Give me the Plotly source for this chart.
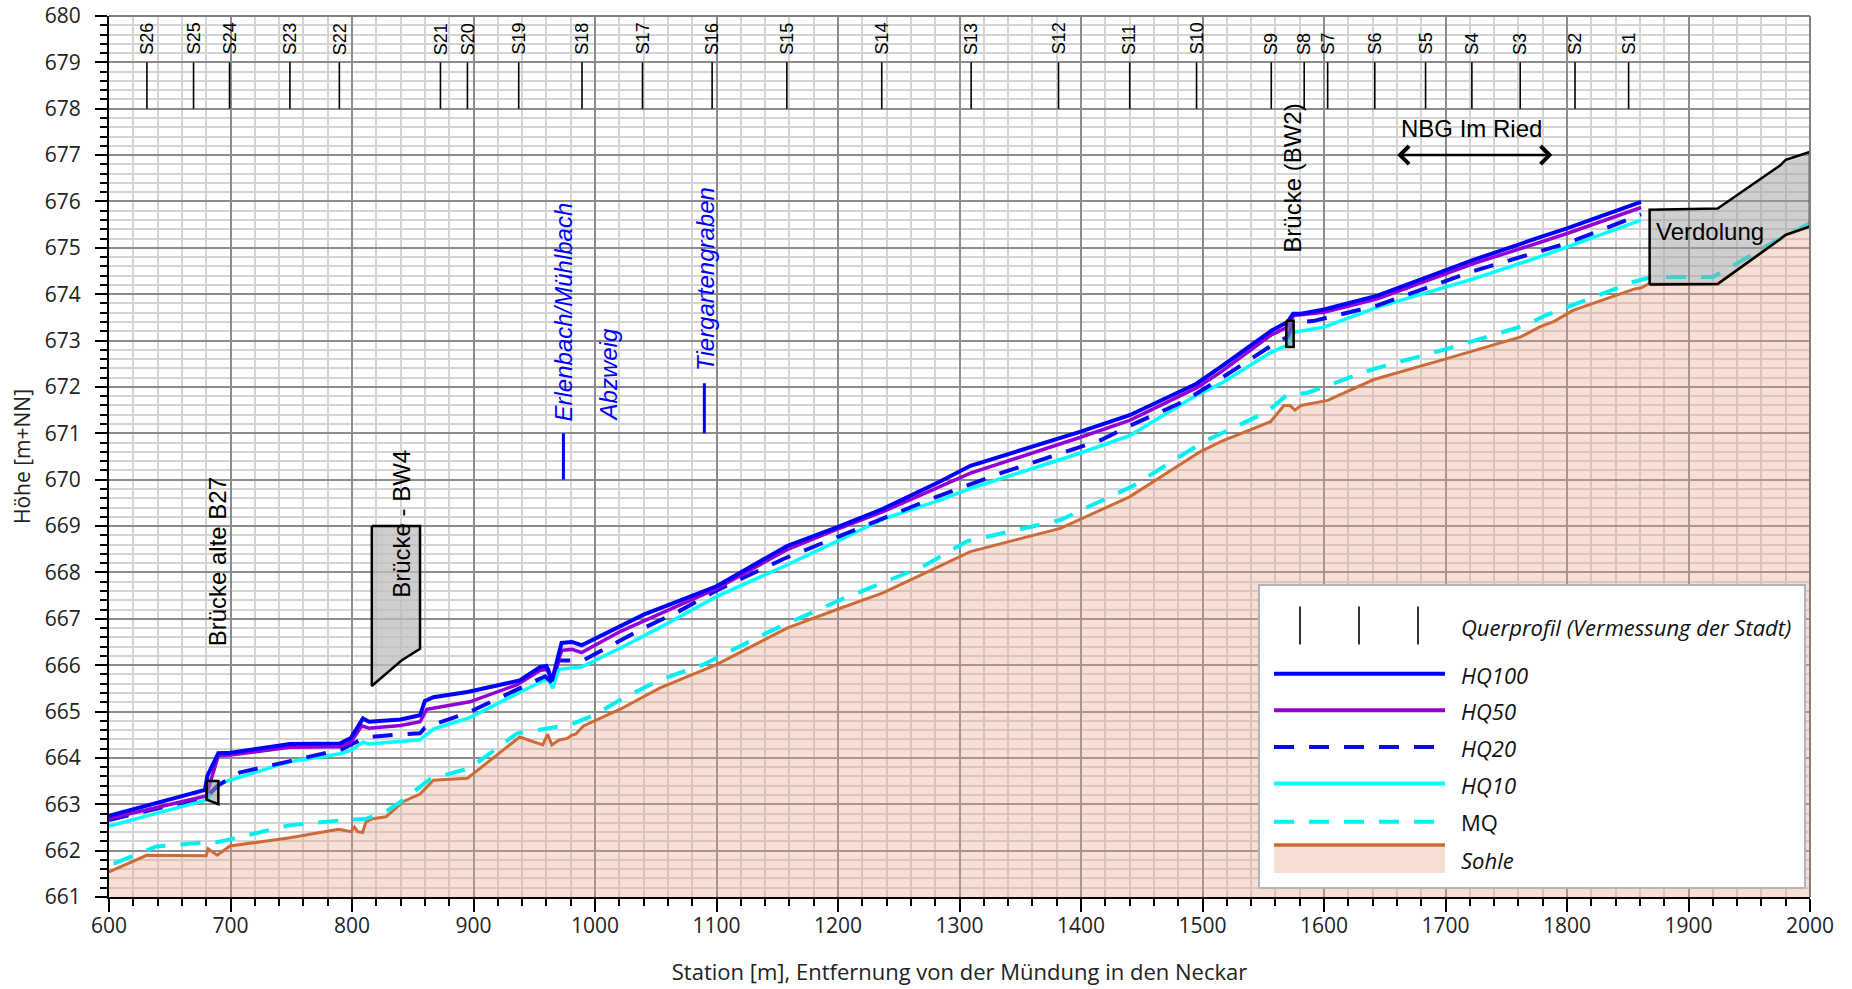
import plotly.graph_objects as go

# ---------------- data ----------------
profile_names = ["S26", "S25", "S24", "S23", "S22", "S21", "S20", "S19", "S18", "S17", "S16", "S15", "S14",
                 "S13", "S12", "S11", "S10", "S9", "S8", "S7", "S6", "S5", "S4", "S3", "S2", "S1"]
profile_st = [631.2, 669.6, 699.2, 748.9, 789.6, 872.8, 895.0, 937.2, 989.3, 1039.1, 1096.4, 1157.9, 1236.0,
              1309.6, 1381.5, 1440.1, 1495.1, 1556.6, 1583.7, 1603.0, 1641.8, 1683.6, 1721.7, 1761.5, 1806.6, 1850.7]
profile_bottom = 678.0
profile_top = 679.0

hq100_x = [600, 679, 681, 690, 700, 749, 790, 799, 809, 814, 840, 856, 860, 867, 895, 938, 955, 960, 964.5,
           972.5, 981, 989, 1040, 1100, 1158, 1199, 1237, 1284, 1309, 1399, 1440, 1495, 1515, 1557, 1570,
           1574.5, 1581, 1600, 1644, 1723, 1778, 1800, 1861]
hq100_y = [662.75, 663.31, 663.62, 664.10, 664.11, 664.30, 664.31, 664.43, 664.85, 664.78, 664.83, 664.92,
           665.23, 665.31, 665.42, 665.67, 665.96, 665.98, 665.66, 666.48, 666.50, 666.43, 667.09, 667.70,
           668.57, 668.97, 669.37, 669.96, 670.30, 671.03, 671.39, 672.07, 672.43, 673.22, 673.40, 673.58,
           673.58, 673.67, 673.97, 674.74, 675.23, 675.42, 675.99]

hq50_x = [600, 680, 690, 700, 749, 790, 799, 808, 814, 840, 856, 861.6, 897, 936, 955, 961.7, 964.5, 972.7,
          981, 989, 1021, 1100, 1158, 1199, 1237, 1284, 1309, 1399, 1440, 1495, 1515, 1557, 1570, 1575, 1600,
          1644, 1723, 1778, 1800, 1861]
hq50_y = [662.69, 663.18, 664.05, 664.06, 664.23, 664.24, 664.34, 664.69, 664.64, 664.70, 664.78, 665.05,
          665.21, 665.58, 665.89, 665.91, 665.67, 666.32, 666.34, 666.27, 666.73, 667.65, 668.49, 668.93,
          669.31, 669.85, 670.14, 670.91, 671.28, 671.98, 672.32, 673.13, 673.29, 673.54, 673.61, 673.90,
          674.66, 675.12, 675.31, 675.87]

hq20_x = [600, 680, 690, 708, 749, 792, 800, 811, 831, 856, 860, 867, 895, 938, 959, 964.5, 970, 990, 1040,
          1069, 1100, 1155, 1210, 1279, 1334, 1416, 1440, 1484, 1515, 1556, 1570, 1575, 1591, 1644, 1723,
          1800, 1861]
hq20_y = [662.66, 663.16, 663.41, 663.69, 663.93, 664.19, 664.30, 664.44, 664.49, 664.53, 664.65, 664.72,
          664.97, 665.51, 665.76, 665.62, 666.10, 666.10, 666.80, 667.16, 667.61, 668.29, 668.88, 669.61,
          670.14, 670.85, 671.16, 671.68, 672.18, 672.88, 673.08, 673.40, 673.42, 673.76, 674.50, 675.10,
          675.72]

hq10_x = [600, 680, 690, 749, 790, 800, 809, 814, 856, 867, 897, 938, 957.6, 961.7, 965.3, 970, 989, 1021,
          1054, 1100, 1158, 1199, 1237, 1284, 1309, 1399, 1440, 1495, 1515, 1556, 1570, 1575, 1600, 1644,
          1723, 1778, 1861]
hq10_y = [662.53, 663.09, 663.44, 663.92, 664.09, 664.17, 664.34, 664.30, 664.39, 664.62, 664.87, 665.41,
          665.67, 665.69, 665.50, 665.91, 665.96, 666.37, 666.82, 667.48, 668.16, 668.67, 669.15, 669.56,
          669.81, 670.57, 670.95, 671.82, 672.07, 672.74, 672.90, 673.18, 673.29, 673.72, 674.33, 674.81,
          675.60]

mq_x = [604, 639, 680, 689, 749, 798, 811, 829, 842, 864, 897, 936, 980, 999, 1024, 1054, 1089, 1144, 1202,
        1240, 1270, 1306, 1383, 1443, 1501, 1553, 1570, 1586, 1641, 1701, 1767, 1782, 1855, 1870, 1920, 1932,
        1965, 2000]
mq_y = [661.72, 662.09, 662.18, 662.18, 662.55, 662.67, 662.68, 662.86, 663.09, 663.54, 663.78, 664.53,
        664.72, 664.92, 665.30, 665.69, 666.01, 666.73, 667.41, 667.81, 668.13, 668.67, 669.13, 669.87,
        670.82, 671.46, 671.84, 671.87, 672.39, 672.82, 673.34, 673.54, 674.27, 674.37, 674.37, 674.54,
        675.05, 675.53]

sohle_x = [600, 631, 680, 681.5, 689, 699.5, 749, 789, 799, 802, 804.6, 808.7, 811.5, 817, 828, 842.4, 856,
           867, 895, 938, 957, 961, 964.5, 970, 977, 981, 984, 990.5, 1020.7, 1053.6, 1100, 1158, 1199, 1237,
           1309, 1383, 1440, 1498, 1515, 1556, 1567, 1572, 1576, 1581, 1603, 1641, 1701, 1762, 1778, 1789,
           1805, 1838, 1855, 1861, 1867, 1924, 1976, 1980, 2000]
sohle_y = [661.54, 661.90, 661.89, 662.04, 661.90, 662.10, 662.28, 662.46, 662.41, 662.51, 662.41, 662.39,
           662.62, 662.69, 662.73, 663.06, 663.22, 663.52, 663.56, 664.45, 664.28, 664.51, 664.28, 664.38,
           664.42, 664.49, 664.51, 664.69, 665.05, 665.51, 666.01, 666.80, 667.20, 667.56, 668.45, 668.95,
           669.63, 670.60, 670.82, 671.25, 671.60, 671.60, 671.50, 671.60, 671.71, 672.16, 672.61, 673.08,
           673.30, 673.41, 673.65, 673.95, 674.11, 674.14, 674.22, 674.22, 675.19, 675.28, 675.46]

# structures
b27_x = [680.3, 690, 690, 680.3, 680.3]
b27_y = [663.5, 663.5, 663.0, 663.1, 663.5]
bw4_x = [816.3, 856, 856, 840.7, 816.3, 816.3]
bw4_y = [669.0, 669.0, 666.35, 666.10, 665.55, 669.0]
bw2_x = [1569, 1575, 1575, 1569, 1569]
bw2_y = [673.43, 673.43, 672.86, 672.86, 673.43]
verd_x = [1868, 1868, 1924, 1975.6, 1980, 2000, 2000, 1980, 1975.6, 1924, 1868]
verd_y = [674.21, 675.82, 675.85, 676.78, 676.90, 677.07, 675.46, 675.28, 675.19, 674.22, 674.21]

# tributary markers
erlen_x = [974, 974]
erlen_y = [670.0, 671.0]
tier_x = [1090, 1090]
tier_y = [671.0, 672.08]

# annotation texts
black_labels = [
    ("Brücke alte B27", 689.6, 666.37),
    ("Brücke - BW4", 840.8, 667.40),
    ("Brücke (BW2)", 1574.0, 674.85),
]
blue_labels = [
    ("Erlenbach/Mühlbach", 974.0, 671.21),
    ("Abzweig", 1011.0, 671.21),
    ("Tiergartengraben", 1090.5, 672.30),
]
nbg_text = "NBG Im Ried"
nbg_arrow = (1659, 1788, 677.0)
nbg_pos = (1721, 677.58)
verd_text = "Verdolung"
verd_pos = (1872, 675.35)

y_ticks = list(range(661, 681))
x_ticks = list(range(600, 2001, 100))

legend_labels = ["Querprofil (Vermessung der Stadt)", "HQ100", "HQ50", "HQ20", "HQ10", "MQ", "Sohle"]

# ---------------- styling ----------------
W, H = 1852, 989
ML, MR, MT, MB = 109, 42, 16, 92
PW, PH = W - ML - MR, H - MT - MB

C_HQ100 = "#0000FF"
C_HQ50 = "#9400D3"
C_HQ20 = "#0A0AEE"
C_HQ10 = "#00FFFF"
C_MQ = "#00F0F0"
C_SOHLE = "#CD6A3A"
FILL_SOHLE = "rgba(230,165,135,0.35)"
DASH = "20px,15px"

TICKFONT = dict(family="Open Sans", size=21, color="#222222")
ANNFONT = "Liberation Sans"


def px(xp):
    return (xp - ML) / PW


def py(yp):
    return (H - MB - yp) / PH


fig = go.Figure()

fig.add_trace(go.Scatter(x=sohle_x, y=sohle_y, mode="lines", fill="tozeroy", fillcolor=FILL_SOHLE,
                         line=dict(color=C_SOHLE, width=3), name="Sohle", hoverinfo="skip"))
fig.add_trace(go.Scatter(x=mq_x, y=mq_y, mode="lines", line=dict(color=C_MQ, width=4, dash=DASH), name="MQ"))
fig.add_trace(go.Scatter(x=hq10_x, y=hq10_y, mode="lines", line=dict(color=C_HQ10, width=3.5), name="HQ10"))
fig.add_trace(go.Scatter(x=hq20_x, y=hq20_y, mode="lines", line=dict(color=C_HQ20, width=4, dash=DASH),
                         name="HQ20"))
fig.add_trace(go.Scatter(x=hq50_x, y=hq50_y, mode="lines", line=dict(color=C_HQ50, width=3.5), name="HQ50"))
fig.add_trace(go.Scatter(x=hq100_x, y=hq100_y, mode="lines", line=dict(color=C_HQ100, width=4), name="HQ100"))

# structures (semi-transparent grey)
for sx, sy, fc in [(b27_x, b27_y, "rgba(150,150,150,0.55)"), (bw2_x, bw2_y, "rgba(150,150,150,0.55)"),
                   (bw4_x, bw4_y, "rgba(190,190,190,0.75)"), (verd_x, verd_y, "rgba(160,160,160,0.5)")]:
    fig.add_trace(go.Scatter(x=sx, y=sy, mode="lines", fill="toself", fillcolor=fc,
                             line=dict(color="black", width=2.5)))

# Querprofile
qx, qy = [], []
for s in profile_st:
    qx += [s, s, None]
    qy += [profile_bottom, profile_top, None]
fig.add_trace(go.Scatter(x=qx, y=qy, mode="lines", line=dict(color="black", width=1.6), name="Querprofil"))

# tributary markers
fig.add_trace(go.Scatter(x=erlen_x, y=erlen_y, mode="lines", line=dict(color="#0000FF", width=3)))
fig.add_trace(go.Scatter(x=tier_x, y=tier_y, mode="lines", line=dict(color="#0000FF", width=3)))

annotations = []
for name, s in zip(profile_names, profile_st):
    annotations.append(dict(x=s, y=679.12, xref="x", yref="y", text=name, showarrow=False, textangle=-90,
                            xanchor="center", yanchor="bottom",
                            font=dict(family=ANNFONT, size=18, color="black")))
for t, x, y in black_labels:
    annotations.append(dict(x=x, y=y, xref="x", yref="y", text=t, showarrow=False, textangle=-90,
                            xanchor="center", yanchor="bottom",
                            font=dict(family=ANNFONT, size=24, color="black")))
for t, x, y in blue_labels:
    annotations.append(dict(x=x, y=y, xref="x", yref="y", text="<i>" + t + "</i>", showarrow=False,
                            textangle=-90, xanchor="center", yanchor="bottom",
                            font=dict(family=ANNFONT, size=24, color="#0000FF")))
annotations.append(dict(x=nbg_pos[0], y=nbg_pos[1], xref="x", yref="y", text=nbg_text, showarrow=False,
                        font=dict(family=ANNFONT, size=24, color="black")))
annotations.append(dict(x=nbg_arrow[1], y=nbg_arrow[2], ax=nbg_arrow[0], ay=nbg_arrow[2], xref="x", yref="y",
                        axref="x", ayref="y", text="", showarrow=True, arrowhead=4, startarrowhead=4,
                        arrowside="end+start", arrowsize=1.4, startarrowsize=1.4, arrowwidth=2.5,
                        arrowcolor="black"))
annotations.append(dict(x=verd_pos[0], y=verd_pos[1], xref="x", yref="y", text=verd_text, showarrow=False,
                        xanchor="left", font=dict(family=ANNFONT, size=24, color="black")))

# ---------------- manual legend ----------------
shapes = []
shapes.append(dict(type="line", xref="paper", yref="paper", x0=0, x1=1, y0=1, y1=1,
                   line=dict(color="#7F7F7F", width=2), layer="above"))
shapes.append(dict(type="line", xref="paper", yref="paper", x0=1, x1=1, y0=0, y1=1,
                   line=dict(color="#7F7F7F", width=2), layer="above"))
shapes.append(dict(type="rect", xref="paper", yref="paper", x0=px(1259), x1=px(1805), y0=py(888), y1=py(585),
                   fillcolor="white", line=dict(color="#B4B4B4", width=2), layer="above"))
for xq in (1300, 1359, 1418):
    shapes.append(dict(type="line", xref="paper", yref="paper", x0=px(xq), x1=px(xq), y0=py(644.6),
                       y1=py(606.6), line=dict(color="black", width=1.6), layer="above"))
leg_rows = [(673.7, C_HQ100, 4, "solid"), (710.2, C_HQ50, 4, "solid"), (747.0, C_HQ20, 4, DASH),
            (783.6, C_HQ10, 4, "solid"), (821.7, C_MQ, 4, DASH)]
for yy, col, wd, ds in leg_rows:
    shapes.append(dict(type="line", xref="paper", yref="paper", x0=px(1274), x1=px(1445), y0=py(yy),
                       y1=py(yy), line=dict(color=col, width=wd, dash=ds), layer="above"))
shapes.append(dict(type="rect", xref="paper", yref="paper", x0=px(1274), x1=px(1445), y0=py(873), y1=py(845),
                   fillcolor=FILL_SOHLE, line=dict(width=0), layer="above"))
shapes.append(dict(type="line", xref="paper", yref="paper", x0=px(1274), x1=px(1445), y0=py(845), y1=py(845),
                   line=dict(color=C_SOHLE, width=3.5), layer="above"))

leg_text_y = [627, 674.5, 711, 748, 784.5, 822, 860]
for lab, yy in zip(legend_labels, leg_text_y):
    txt = lab if lab == "MQ" else "<i>" + lab + "</i>"
    annotations.append(dict(x=px(1459), y=py(yy), xref="paper", yref="paper", text=txt, showarrow=False,
                            xanchor="left", yanchor="middle",
                            font=dict(family="Open Sans", size=22, color="#111111")))

fig.update_layout(
    width=W, height=H,
    margin=dict(l=ML, r=MR, t=MT, b=MB),
    paper_bgcolor="white", plot_bgcolor="white",
    showlegend=False,
    annotations=annotations,
    shapes=shapes,
    xaxis=dict(
        range=[600, 2000], tickmode="array", tickvals=x_ticks, showgrid=True, gridcolor="#8C8C8C",
        gridwidth=1.5, zeroline=False, showline=True, linecolor="black", linewidth=2,
        ticks="outside", ticklen=13, tickwidth=2, tickcolor="black", tickfont=TICKFONT,
        ticklabelstandoff=-4, ticklabeloverflow="allow",
        minor=dict(dtick=20, tick0=600, ticks="outside", ticklen=7, tickwidth=2, tickcolor="black",
                   showgrid=True, gridcolor="#D4D4D4", gridwidth=1.5),
        title=dict(text="Station [m], Entfernung von der Mündung in den Neckar",
                   font=dict(family="Open Sans", size=22, color="#222222"), standoff=26),
        automargin=False,
    ),
    yaxis=dict(
        range=[661, 680], tickmode="array", tickvals=y_ticks, showgrid=True, gridcolor="#8C8C8C",
        gridwidth=1.5, zeroline=False, showline=True, linecolor="black", linewidth=2,
        ticks="outside", ticklen=12, tickwidth=2, tickcolor="black", tickfont=TICKFONT,
        ticklabelstandoff=10, ticklabeloverflow="allow",
        minor=dict(dtick=0.2, tick0=661, ticks="outside", ticklen=7, tickwidth=2, tickcolor="black",
                   showgrid=True, gridcolor="#D4D4D4", gridwidth=1.5),
        title=dict(text="Höhe [m+NN]", font=dict(family="Open Sans", size=21, color="#222222"), standoff=8),
        automargin=False,
    ),
)

fig.write_html("out.html")
